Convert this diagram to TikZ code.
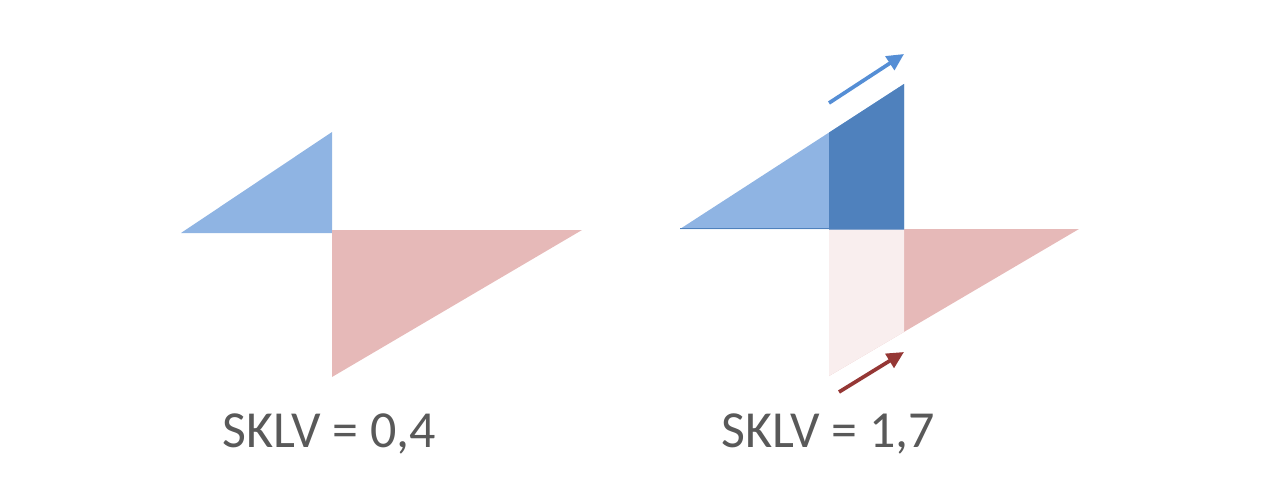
\documentclass[tikz,border=0pt]{standalone}
\usepackage{fontspec}
\setmainfont{Carlito}
\usetikzlibrary{arrows.meta}
\definecolor{lblue}{HTML}{8FB4E3}
\definecolor{dblue}{HTML}{4F81BD}
\definecolor{lred}{HTML}{E6B9B8}
\definecolor{pred}{HTML}{F9EEEE}
\definecolor{ablue}{HTML}{558ED5}
\definecolor{ared}{HTML}{953735}
\definecolor{tgray}{HTML}{595959}
\tikzset{
  lbl/.style={text=tgray, font=\fontsize{52}{62}\selectfont, inner sep=0pt, anchor=base west},
  arr/.style={line width=3.7pt, -{Triangle[length=17pt,width=16pt]}}
}
\begin{document}
\begin{tikzpicture}[x=1pt,y=-1pt]
\useasboundingbox (0,0) rectangle (1280,500);
% left figure
\fill[lblue] (181,233) -- (332,132) -- (332,233) -- cycle;
\fill[lred] (332,230) -- (582,230) -- (332,377) -- cycle;
% right figure
\fill[lred] (829,229) -- (1079,229) -- (829,376) -- cycle;
\fill[pred] (829,229) -- (904,229) -- (904,332) -- (829,376) -- cycle;
\fill[lblue] (680,229) -- (904,84) -- (904,229) -- cycle;
\fill[dblue] (829,132.6) -- (904,84) -- (904,229.5) -- (829,229.5) -- cycle;
\draw[dblue, line width=1.5pt] (680,228.7) -- (829,228.7);
% arrows
\coordinate (b1) at (829,103);
\coordinate (b2) at (904,54);
\coordinate (r1) at (839,392);
\coordinate (r2) at (904,352);
\draw[arr, ablue] (b1) -- (b2);
\draw[arr, ared] (r1) -- (r2);
% labels
\node[lbl] (t1) at (222,447) {SKLV = 0,4};
\node[lbl] (t2) at (721,447) {SKLV = 1,7};
\end{tikzpicture}
\end{document}
